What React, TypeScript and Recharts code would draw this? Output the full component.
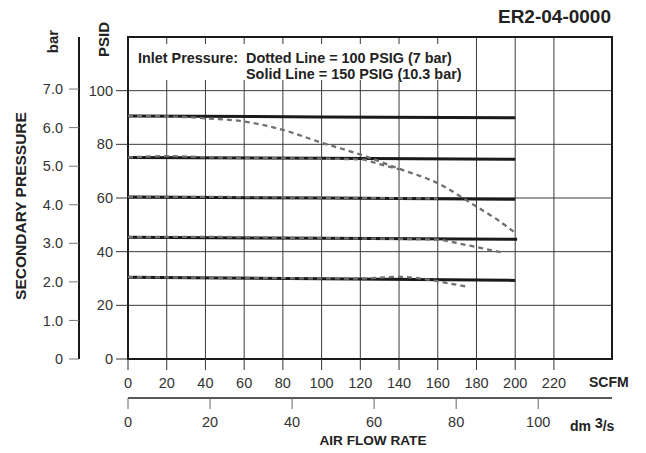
import React from 'react';
import { LineChart, Line, XAxis, YAxis, CartesianGrid, ReferenceArea } from 'recharts';

const FONT = '"Liberation Sans", Arial, Helvetica, sans-serif';

// axis ticks
const scfmTicks = [0, 20, 40, 60, 80, 100, 120, 140, 160, 180, 200, 220];
const dm3Ticks = [0, 20, 40, 60, 80, 100];
const psidTicks = [0, 20, 40, 60, 80, 100];
const barTicks = [0, 1, 2, 3, 4, 5, 6, 7];

// solid lines - 150 PSIG inlet
const solidFlow = [0, 100, 200];
const solidFlowLong = [0, 100, 201];
const solid90 = [90.6, 90.2, 89.9];
const solid75 = [75.1, 74.8, 74.4];
const solid60 = [60.4, 60.0, 59.5];
const solid45 = [45.4, 45.0, 44.6];
const solid30 = [30.5, 29.9, 29.3];

// dotted lines - 100 PSIG inlet
const dot90Flow = [0, 20, 40, 60, 80, 100, 120, 140, 160, 180, 190, 200];
const dot90 = [90.6, 90.4, 89.7, 88.5, 85.4, 80.6, 76.2, 70.9, 65.5, 56.8, 52.3, 47.0];
const dot75Flow = [0, 20, 40, 80, 120, 130, 140];
const dot75 = [75.1, 75.6, 75.2, 74.8, 74.4, 72.6, 70.7];
const dot60Flow = [0, 40, 80, 120, 160];
const dot60 = [60.4, 60.4, 60.2, 60.0, 59.8];
const dot45Flow = [0, 40, 80, 120, 160, 170, 180, 194];
const dot45 = [45.4, 45.5, 45.2, 44.9, 44.5, 43.2, 41.7, 39.6];
const dot30Flow = [0, 60, 120, 140, 155, 165, 175];
const dot30 = [30.5, 30.2, 30.0, 30.6, 29.6, 28.3, 27.0];

const pts = (flow: number[], psid: number[]) => flow.map((x, i) => ({ x, y: psid[i] }));

const solids = [
  pts(solidFlow, solid90),
  pts(solidFlow, solid75),
  pts(solidFlow, solid60),
  pts(solidFlowLong, solid45),
  pts(solidFlow, solid30),
];
const dots = [
  pts(dot90Flow, dot90),
  pts(dot75Flow, dot75),
  pts(dot60Flow, dot60),
  pts(dot45Flow, dot45),
  pts(dot30Flow, dot30),
];

// axis ids: "a" sits next to the plot, "b" outside it
const SCFM = 'a';
const DM3 = 'b';
const PSID = 'a';
const BAR = 'b';

const tickStyle = { fill: '#333', fontSize: 14.5, fontFamily: FONT };
const boldText = { fill: '#222', fontFamily: FONT, fontWeight: 700 } as const;

export default function App() {
  return (
    <div style={{ position: 'absolute', left: 0, top: 0, background: '#fff' }}>
      <LineChart width={646} height={453} margin={{ top: 37, right: 34, left: 0, bottom: 15 }}>
        <CartesianGrid xAxisId={SCFM} yAxisId={PSID} stroke="#3a3a3a" strokeWidth={1} />
        <XAxis
          xAxisId={SCFM}
          type="number"
          dataKey="x"
          domain={[0, 250]}
          ticks={scfmTicks}
          interval={0}
          height={39}
          tickSize={11}
          tickMargin={8}
          axisLine={false}
          tickLine={{ stroke: '#333' }}
          tick={tickStyle}
          allowDataOverflow
        />
        <XAxis
          xAxisId={DM3}
          type="number"
          dataKey="x"
          domain={[0, 117.99]}
          ticks={dm3Ticks}
          interval={0}
          height={40}
          tickSize={11}
          tickMargin={8}
          axisLine={{ stroke: '#222', strokeWidth: 1.5 }}
          tickLine={{ stroke: '#666' }}
          tick={tickStyle}
          allowDataOverflow
        />
        <YAxis
          yAxisId={PSID}
          type="number"
          domain={[0, 120]}
          ticks={psidTicks}
          interval={0}
          width={49}
          tickSize={12}
          tickMargin={3}
          axisLine={false}
          tickLine={{ stroke: '#333' }}
          tick={tickStyle}
          allowDataOverflow
        />
        <YAxis
          yAxisId={BAR}
          type="number"
          domain={[0, 8.35]}
          ticks={barTicks}
          interval={0}
          width={79}
          tickSize={10}
          tickMargin={6}
          axisLine={{ stroke: '#1a1a1a', strokeWidth: 2 }}
          tickLine={{ stroke: '#777' }}
          tick={tickStyle}
          tickFormatter={(v: number) => (v === 0 ? '0' : v.toFixed(1))}
          allowDataOverflow
        />
        {solids.map((d, i) => (
          <Line
            key={'s' + i}
            xAxisId={SCFM}
            yAxisId={PSID}
            data={d}
            dataKey="y"
            type="linear"
            stroke="#1a1a1a"
            strokeWidth={3}
            dot={false}
            isAnimationActive={false}
          />
        ))}
        {dots.map((d, i) => (
          <Line
            key={'d' + i}
            xAxisId={SCFM}
            yAxisId={PSID}
            data={d}
            dataKey="y"
            type="monotone"
            stroke="#707070"
            strokeWidth={2.3}
            strokeDasharray="5 4"
            dot={false}
            isAnimationActive={false}
          />
        ))}
        <ReferenceArea xAxisId={SCFM} yAxisId={PSID} x1={0} x2={250} y1={0} y2={120} fill="none" stroke="#1a1a1a" strokeWidth={2} />

        {/* legend note sits on a white patch over the grid */}
        <rect x={131} y={44} width={341} height={36} fill="#fff" />
        <text x={138} y={62.5} fontSize={14.4} {...boldText}>Inlet Pressure:</text>
        <text x={246} y={62.5} fontSize={14.4} {...boldText}>Dotted Line = 100 PSIG (7 bar)</text>
        <text x={246} y={79} fontSize={14.4} {...boldText}>Solid Line = 150 PSIG (10.3 bar)</text>

        <text x={611} y={22.7} textAnchor="end" fontSize={19} {...boldText}>ER2-04-0000</text>
        <text transform="translate(58.3,41.5) rotate(-90)" textAnchor="middle" fontSize={15} {...boldText}>bar</text>
        <text transform="translate(109,39.5) rotate(-90)" textAnchor="middle" fontSize={15} {...boldText}>PSID</text>
        <text transform="translate(26,206) rotate(-90)" textAnchor="middle" fontSize={15.5} {...boldText}>SECONDARY PRESSURE</text>
        <text x={589} y={387} fontSize={14} {...boldText}>SCFM</text>
        <text x={570} y={430.7} fontSize={14} {...boldText}>
          dm <tspan dy={-3}>3</tspan><tspan dy={3}>/s</tspan>
        </text>
        <text x={373} y={445} textAnchor="middle" fontSize={13.6} {...boldText}>AIR FLOW RATE</text>
      </LineChart>
    </div>
  );
}
